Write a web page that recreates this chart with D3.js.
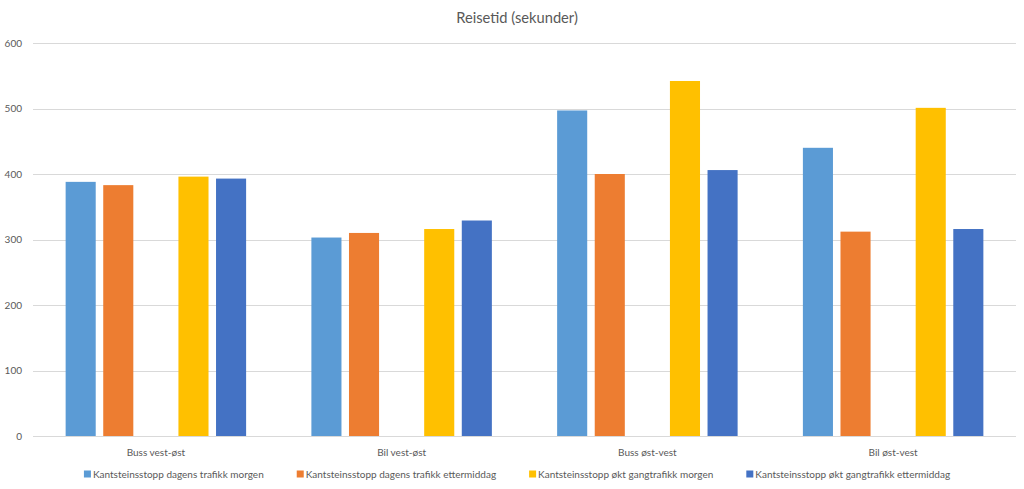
<!DOCTYPE html>
<html>
<head>
<meta charset="utf-8">
<script src="https://cdn.jsdelivr.net/npm/d3@7"></script>
<style>
  html, body { margin: 0; padding: 0; background: #fff; }
  svg { display: block; font-family: Lato, "Open Sans", sans-serif; }
</style>
</head>
<body>
<svg id="chart" width="1024" height="489"></svg>
<script>
const title = "Reisetid (sekunder)";
const categories = ["Buss vest-øst", "Bil vest-øst", "Buss øst-vest", "Bil øst-vest"];
const seriesNames = [
  "Kantsteinsstopp dagens trafikk morgen",
  "Kantsteinsstopp dagens trafikk ettermiddag",
  "Kantsteinsstopp økt gangtrafikk morgen",
  "Kantsteinsstopp økt gangtrafikk ettermiddag"
];
const dagensMorgen      = [388, 303, 497, 440];
const dagensEttermiddag = [383, 310, 400, 312];
const oktMorgen         = [396, 316, 542, 501];
const oktEttermiddag    = [393, 329, 406, 316];
const yTicks = [0, 100, 200, 300, 400, 500, 600];
const colors = ["#5B9BD5", "#ED7D31", "#FFC000", "#4472C4"];

const seriesValues = [dagensMorgen, dagensEttermiddag, oktMorgen, oktEttermiddag];
// Excel layout leaves an empty slot between the 2nd and 3rd series
const slots = ["s0", "s1", "empty", "s2", "s3"];
const slotOf = ["s0", "s1", "s2", "s3"];

const svg = d3.select("#chart");
const margin = {left: 33, right: 8, top: 43, bottom: 53};
const W = 1024, H = 489;
const x0 = d3.scaleBand().domain(categories).range([margin.left, W - margin.right]).paddingInner(0).paddingOuter(0);
const x1 = d3.scaleBand().domain(slots).range([0, x0.bandwidth()]).paddingInner(0.2).paddingOuter(0.868);
const y = d3.scaleLinear().domain([0, 600]).range([H - margin.bottom, margin.top]);

// gridlines
svg.append("g").selectAll("line").data(yTicks).join("line")
  .attr("x1", margin.left).attr("x2", W - margin.right)
  .attr("y1", d => Math.round(y(d)) + 0.5).attr("y2", d => Math.round(y(d)) + 0.5)
  .attr("stroke", "#D9D9D9").attr("stroke-width", 1);

// y labels
svg.append("g").selectAll("text").data(yTicks).join("text")
  .attr("x", 22).attr("y", d => y(d)).attr("dy", "0.35em")
  .attr("text-anchor", "end").attr("font-size", 10).attr("fill", "#595959")
  .text(d => d);

// bars
const data = [];
categories.forEach((c, i) => {
  seriesValues.forEach((vals, s) => {
    data.push({cat: c, slot: slotOf[s], value: vals[i], color: colors[s]});
  });
});
svg.append("g").selectAll("rect").data(data).join("rect")
  .attr("x", d => x0(d.cat) + x1(d.slot))
  .attr("width", x1.bandwidth())
  .attr("y", d => y(d.value))
  .attr("height", d => y(0) - y(d.value))
  .attr("fill", d => d.color);

// category labels
svg.append("g").selectAll("text").data(categories).join("text")
  .attr("x", d => x0(d) + x0.bandwidth() / 2).attr("y", 452).attr("dy", "0.35em")
  .attr("text-anchor", "middle").attr("font-size", 10).attr("fill", "#595959")
  .text(d => d);

// title
svg.append("text").attr("x", 517).attr("y", 18).attr("dy", "0.35em")
  .attr("text-anchor", "middle").attr("font-size", 14.7).attr("fill", "#595959")
  .text(title);

// legend
const lg = svg.append("g");
const items = lg.selectAll("g").data(seriesNames).join("g");
items.append("rect").attr("width", 7).attr("height", 7).attr("y", -3.5)
  .attr("fill", (d, i) => colors[i]);
items.append("text").attr("x", 9).attr("dy", "0.35em")
  .attr("font-size", 10).attr("fill", "#595959").text(d => d);
const widths = [];
items.each(function() { widths.push(this.getBBox().width); });
const gap = 33;
const total = d3.sum(widths) + gap * (widths.length - 1);
let cx = 517 - total / 2;
items.attr("transform", (d, i) => {
  const t = `translate(${cx},474)`;
  cx += widths[i] + gap;
  return t;
});
</script>
</body>
</html>
